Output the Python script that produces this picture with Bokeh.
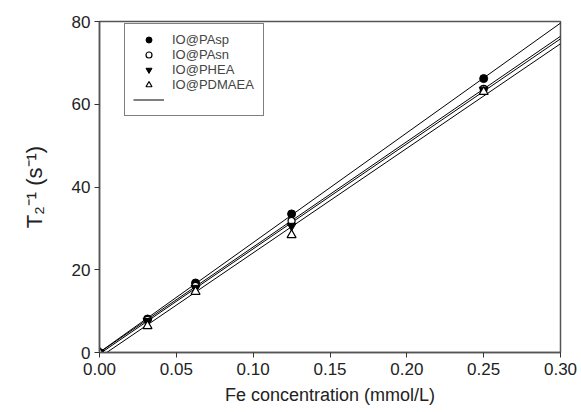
import numpy as np
from bokeh.plotting import figure
from bokeh.models import Range1d, Legend, LegendItem, FixedTicker
from bokeh.embed import file_html
from bokeh.resources import INLINE

# ---- data ----
fe_conc = [0.0, 0.03125, 0.0625, 0.125, 0.25]
series_names = ["IO@PAsp", "IO@PAsn", "IO@PHEA", "IO@PDMAEA"]
pasp = [0.0, 8.1, 16.8, 33.5, 66.2]
pasn = [0.0, 7.9, 16.1, 31.8, 63.7]
phea = [0.0, 7.6, 15.6, 30.6, 63.5]
pdmaea = [0.0, 6.4, 14.7, 28.4, 63.0]
x_ticks = [0.0, 0.05, 0.10, 0.15, 0.20, 0.25, 0.30]
y_ticks = [0, 20, 40, 60, 80]

FONT = "Liberation Sans"

p = figure(width=580, height=411, output_backend="svg", toolbar_location=None,
           x_range=Range1d(0.0, 0.30), y_range=Range1d(0, 80),
           min_border_left=99, min_border_right=20, min_border_top=21,
           min_border_bottom=59)
p.grid.visible = False
p.background_fill_color = "white"
p.border_fill_color = "white"
p.outline_line_color = "#555555"
p.outline_line_width = 1.5

for ax in (p.xaxis, p.yaxis):
    ax.axis_line_color = "#555555"
    ax.axis_line_width = 1.5
    ax.major_tick_line_color = "#333333"
    ax.major_tick_out = 5
    ax.major_tick_in = 0
    ax.minor_tick_line_color = None
    ax.major_label_text_font = FONT
    ax.major_label_text_font_size = "17px"
    ax.major_label_text_color = "#222222"
    ax.axis_label_text_font = FONT
    ax.axis_label_text_font_style = "normal"
    ax.axis_label_text_color = "#222222"

p.xaxis.ticker = FixedTicker(ticks=x_ticks)
p.yaxis.ticker = FixedTicker(ticks=y_ticks)
p.xaxis.major_label_overrides = {t: f"{t:.2f}" for t in x_ticks}
p.xaxis.axis_label = "Fe concentration (mmol/L)"
p.xaxis.axis_label_text_font_size = "18px"
p.xaxis.axis_label_standoff = 7
p.yaxis.major_label_standoff = 4
p.yaxis.axis_label = "T\u2082\u207b\u00b9 (s\u207b\u00b9)"
p.yaxis.axis_label_text_font_size = "22px"
p.yaxis.axis_label_standoff = 22

# regression lines
xs_line = [0.0, 0.30]
line_renderers = []
for ys in (pasp, pasn, phea, pdmaea):
    k, b = np.polyfit(fe_conc, ys, 1)
    r = p.line(xs_line, [b + k * xv for xv in xs_line], line_color="black", line_width=1)
    line_renderers.append(r)

r1 = p.scatter(fe_conc, pasp, marker="circle", size=8, fill_color="black", line_color="black")
r2 = p.scatter(fe_conc, pasn, marker="circle", size=7, fill_color="white", line_color="black", line_width=1.2)
r3 = p.scatter(fe_conc, phea, marker="inverted_triangle", size=9, fill_color="black", line_color="black")
r4 = p.scatter(fe_conc, pdmaea, marker="triangle", size=9, fill_color="white", line_color="black", line_width=1.2)

items = [LegendItem(label=n, renderers=[r]) for n, r in zip(series_names, [r1, r2, r3, r4])]
items.append(LegendItem(label=" ", renderers=[line_renderers[0]]))
legend = Legend(items=items, location=(25, 236), orientation="vertical",
                label_text_font=FONT, label_text_font_size="13px",
                label_height=15, glyph_height=15, glyph_width=31,
                label_width=83, label_standoff=8, spacing=0, padding=8, margin=0,
                border_line_color="black", border_line_width=1,
                background_fill_color="white", background_fill_alpha=1)
p.add_layout(legend, "center")

open("out.html", "w").write(file_html(p, INLINE))
